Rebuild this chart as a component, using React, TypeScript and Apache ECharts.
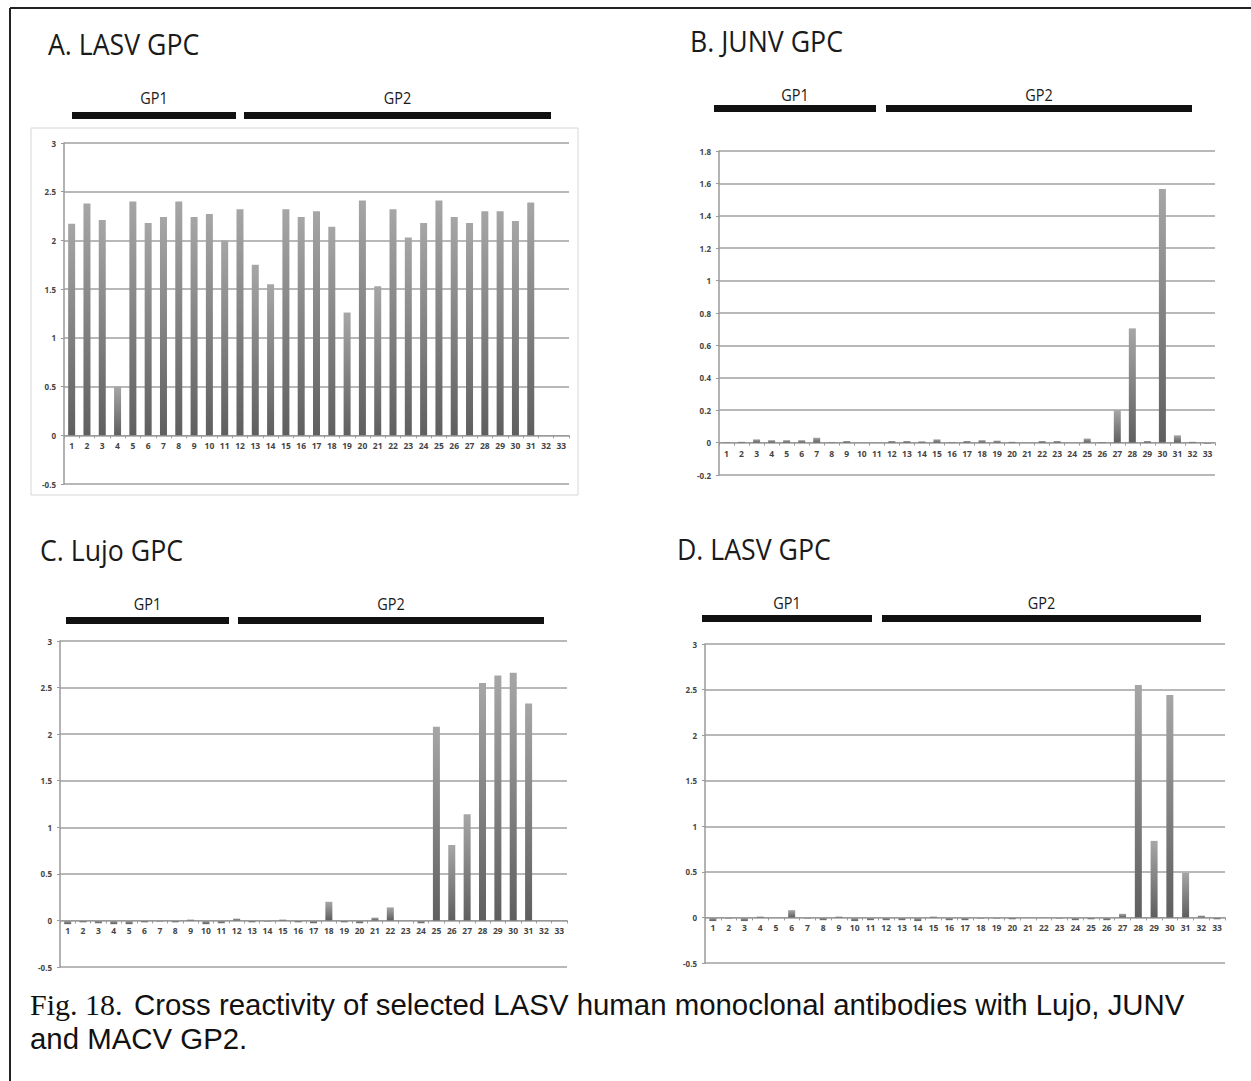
import React, { useEffect, useRef } from "react";
import * as echarts from "echarts";

const categories = ["1","2","3","4","5","6","7","8","9","10","11","12","13","14","15","16","17","18","19","20","21","22","23","24","25","26","27","28","29","30","31","32","33"];

const lasvA = [2.17,2.38,2.21,0.5,2.4,2.18,2.24,2.4,2.24,2.27,2.0,2.32,1.75,1.55,2.32,2.24,2.3,2.14,1.26,2.41,1.53,2.32,2.03,2.18,2.41,2.24,2.18,2.3,2.3,2.2,2.39,0,0];
const junvB = [0.002,0.005,0.02,0.015,0.015,0.015,0.03,0.003,0.01,0,0,0.01,0.01,0.008,0.02,0.003,0.01,0.015,0.012,0.005,0,0.01,0.01,0,0.025,0.003,0.2,0.705,0.01,1.565,0.045,0.005,-0.005];
const lujoC = [-0.04,-0.02,-0.03,-0.04,-0.04,-0.02,-0.01,-0.02,0.01,-0.04,-0.03,0.02,-0.02,-0.01,0.01,-0.02,-0.03,0.2,-0.02,-0.03,0.03,0.14,0,-0.03,2.08,0.81,1.14,2.55,2.63,2.66,2.33,0,0];
const lasvD = [-0.04,-0.01,-0.04,0.01,0,0.08,-0.01,-0.03,0.01,-0.04,-0.03,-0.03,-0.03,-0.04,0.01,-0.03,-0.03,-0.01,-0.01,-0.02,0,0,-0.01,-0.03,-0.02,-0.03,0.04,2.55,0.84,2.44,0.49,0.02,-0.02];

const panelTitles = ["A. LASV GPC", "B. JUNV GPC", "C. Lujo GPC", "D. LASV GPC"];
const regionLabels = ["GP1", "GP2"];
const captionLead = "Fig. 18.";
const captionLine1 = "Cross reactivity of selected LASV human monoclonal antibodies with Lujo, JUNV";
const captionLine2 = "and MACV GP2.";

const yRanges = [
  { min: -0.5, max: 3, interval: 0.5 },
  { min: -0.2, max: 1.8, interval: 0.2 },
  { min: -0.5, max: 3, interval: 0.5 },
  { min: -0.5, max: 3, interval: 0.5 },
];

const grids = [
  { left: 64, top: 143, width: 505, height: 341 },
  { left: 719, top: 151, width: 496, height: 324 },
  { left: 60, top: 641, width: 507, height: 326 },
  { left: 705, top: 644, width: 520, height: 319 },
];

const titlePos = [
  { x: 48, y: 43 },
  { x: 690, y: 40 },
  { x: 40, y: 549 },
  { x: 677, y: 548 },
];

const gpBars = [
  { y: 112, gp1: [72, 236], gp2: [244, 551], ly: 98 },
  { y: 105, gp1: [714, 876], gp2: [886, 1192], ly: 95 },
  { y: 617, gp1: [66, 229], gp2: [238, 544], ly: 604 },
  { y: 615, gp1: [702, 872], gp2: [882, 1201], ly: 603 },
];

export default function App() {
  const ref = useRef<HTMLDivElement>(null);
  useEffect(() => {
    if (!ref.current) return;
    const chart = echarts.init(ref.current, null, { renderer: "svg" });
    const datasets = [lasvA, junvB, lujoC, lasvD];
    const barColor = new echarts.graphic.LinearGradient(0, 0, 0, 1, [
      { offset: 0, color: "#a6a6a6" },
      { offset: 1, color: "#5f5f5f" },
    ]);
    const graphic: any[] = [];
    graphic.push({ type: "line", shape: { x1: 10, y1: 8, x2: 1251, y2: 8 }, style: { stroke: "#222", lineWidth: 2 } });
    graphic.push({ type: "line", shape: { x1: 10, y1: 8, x2: 10, y2: 1081 }, style: { stroke: "#222", lineWidth: 2 } });
    graphic.push({ type: "rect", shape: { x: 31, y: 128, width: 547, height: 367 }, style: { fill: "none", stroke: "#d6d6d6", lineWidth: 1 } });
    panelTitles.forEach((t, i) => {
      graphic.push({
        type: "text", x: titlePos[i].x, y: titlePos[i].y, scaleX: 0.89,
        style: { text: t, font: "30px 'Open Sans'", fill: "#1a1a1a", textVerticalAlign: "middle", textAlign: "left" },
      });
      const g = gpBars[i];
      [g.gp1, g.gp2].forEach((seg, k) => {
        graphic.push({ type: "rect", shape: { x: seg[0], y: g.y, width: seg[1] - seg[0], height: 7 }, style: { fill: "#111" } });
        graphic.push({
          type: "text", x: (seg[0] + seg[1]) / 2, y: g.ly, scaleX: 0.85,
          style: { text: regionLabels[k], font: "17px 'Open Sans'", fill: "#1a1a1a", textAlign: "center", textVerticalAlign: "middle" },
        });
      });
    });
    graphic.push({ type: "text", x: 30, y: 1004, style: { text: captionLead, font: "30px 'Liberation Serif'", fill: "#111", textVerticalAlign: "middle" } });
    graphic.push({ type: "text", x: 134, y: 1004, style: { text: captionLine1, font: "29.4px 'Liberation Sans'", fill: "#111", textVerticalAlign: "middle" } });
    graphic.push({ type: "text", x: 30, y: 1038, style: { text: captionLine2, font: "29.4px 'Liberation Sans'", fill: "#111", textVerticalAlign: "middle" } });

    const option: any = {
      animation: false,
      backgroundColor: "#fff",
      grid: grids.map((g) => ({ ...g, containLabel: false })),
      xAxis: grids.map((g, i) => {
        const r = yRanges[i];
        const zeroOffset = (g.height * (0 - r.min)) / (r.max - r.min);
        return {
          type: "category",
          gridIndex: i,
          data: categories,
          position: "bottom",
          offset: -zeroOffset,
          axisLine: { onZero: false, lineStyle: { color: "#9a9a9a", width: 1 } },
          axisTick: { show: true, length: 3, lineStyle: { color: "#9a9a9a" } },
          axisLabel: { interval: 0, fontSize: 8.5, fontWeight: "bold", color: "#444", margin: 6, fontFamily: "'Open Sans'" },
          splitLine: { show: false },
        };
      }),
      yAxis: yRanges.map((r, i) => ({
        type: "value",
        gridIndex: i,
        min: r.min,
        max: r.max,
        interval: r.interval,
        axisLine: { show: true, lineStyle: { color: "#9a9a9a", width: 1.5 } },
        axisTick: { show: true, length: 3, lineStyle: { color: "#9a9a9a" } },
        axisLabel: {
          fontSize: 8, fontWeight: "bold", color: "#444", margin: 8, fontFamily: "'Open Sans'",
          formatter: (v: number) => String(Math.round(v * 10) / 10),
        },
        splitLine: { show: true, lineStyle: { color: "#a0a0a0", width: 1.5 } },
      })),
      series: datasets.map((d, i) => ({
        type: "bar",
        xAxisIndex: i,
        yAxisIndex: i,
        data: d,
        barWidth: 7,
        itemStyle: { color: barColor },
      })),
      graphic,
    };
    chart.setOption(option);
    return () => chart.dispose();
  }, []);
  return <div ref={ref} style={{ position: "absolute", left: 0, top: 0, width: 1251, height: 1081 }} />;
}
